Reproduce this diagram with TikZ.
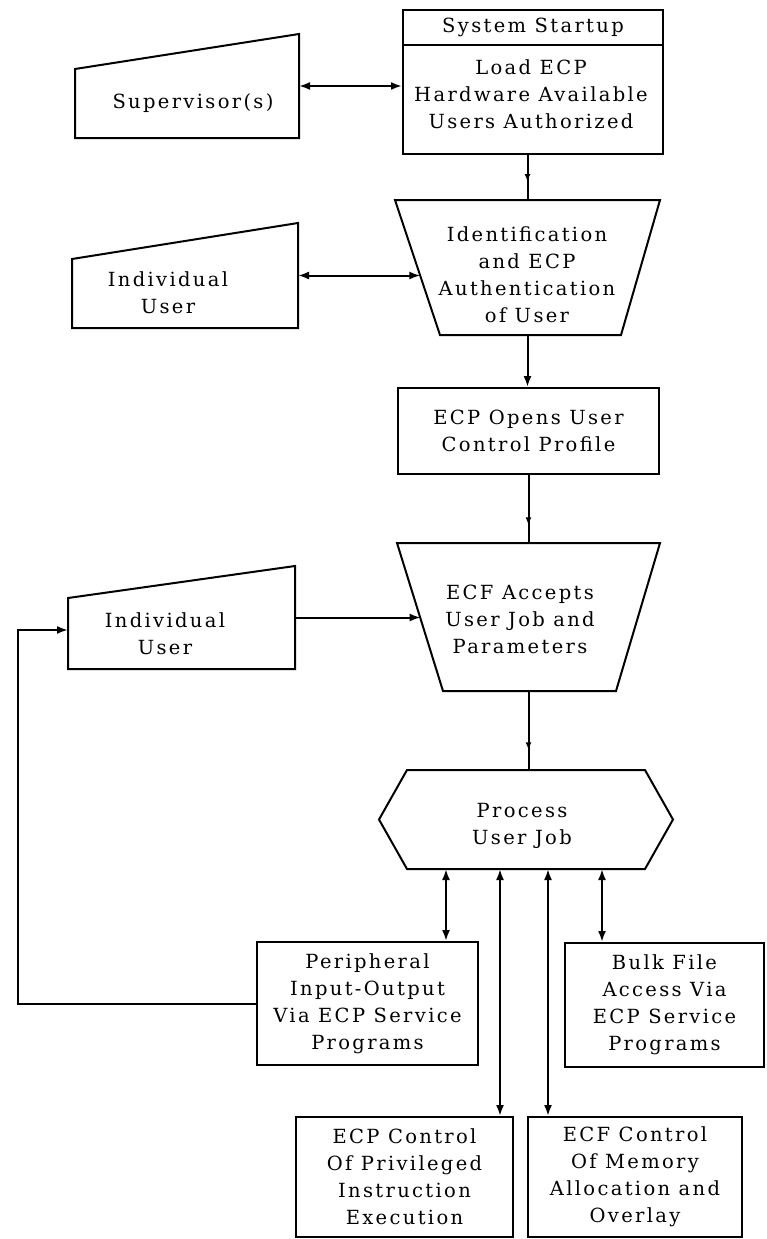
\documentclass[tikz,border=0pt]{standalone}
\usepackage{fontspec}
\setmainfont{DejaVu Serif}[LetterSpace=12.0]
\usetikzlibrary{arrows.meta,decorations.markings,calc}
\begin{document}
\begin{tikzpicture}[x=1pt,y=-1pt,line width=2pt,
  box/.style={draw,rectangle,inner sep=0pt,align=center,font=\fontsize{19.5}{27}\selectfont},
  ghost/.style={draw=none,rectangle,inner sep=0pt,outer sep=0pt},
  txt/.style={align=center,inner sep=0pt,font=\fontsize{19.5}{27}\selectfont},
  tip/.style={-{Latex[length=11pt,width=8pt]}},
  dbl/.style={{Latex[length=11pt,width=8pt]}-{Latex[length=11pt,width=8pt]}},
  midarr/.style={postaction={decorate},decoration={markings,mark=at position #1 with {\arrow{Latex[length=8pt,width=6pt]}}}}]
\useasboundingbox (0,0) rectangle (767,1239);

% System startup
\node[box,minimum width=260pt,minimum height=144pt] (startup) at (533,82) {};
\draw (startup.west |- 0,45) -- (startup.east |- 0,45);
\node[txt] (startupT) at (533,27) {System Startup};
\node[txt] (startupB) at (531,94.5) {Load ECP\\Hardware Available\\Users Authorized};

% Supervisor
\node[ghost,minimum width=224pt,minimum height=104pt] (sup) at (187,86) {};
\draw ([yshift=-35pt]sup.north west) -- (sup.north east) -- (sup.south east) -- (sup.south west) -- cycle;
\node[txt] (supT) at (193,103) {Supervisor(s)};

% Identification
\node[ghost,minimum width=265pt,minimum height=135pt] (ident) at (527.5,267.5) {};
\draw (ident.north west) -- (ident.north east) -- ([xshift=-39pt]ident.south east) -- ([xshift=45pt]ident.south west) -- cycle;
\node[txt] (identT) at (527,275) {Identification\\and ECP\\Authentication\\of User};
\coordinate (identL) at ($(ident.north west)!0.563!([xshift=45pt]ident.south west)$);

% Individual user 1
\node[ghost,minimum width=226pt,minimum height=105pt] (user1) at (185,275.5) {};
\draw ([yshift=-36pt]user1.north west) -- (user1.north east) -- (user1.south east) -- (user1.south west) -- cycle;
\node[txt] (user1T) at (168,292.5) {Individual\\User};

% ECP opens
\node[box,minimum width=261pt,minimum height=86pt] (opens) at (528.5,431) {ECP Opens User\\Control Profile};

% ECF accepts
\node[ghost,minimum width=263pt,minimum height=148pt] (ecf) at (528.5,617) {};
\draw (ecf.north west) -- (ecf.north east) -- ([xshift=-44pt]ecf.south east) -- ([xshift=46pt]ecf.south west) -- cycle;
\node[txt] (ecfT) at (520,619) {ECF Accepts\\User Job and\\Parameters};
\coordinate (ecfL) at ($(ecf.north west)!0.514!([xshift=46pt]ecf.south west)$);

% Individual user 2
\node[ghost,minimum width=227pt,minimum height=103pt] (user2) at (181.5,617.5) {};
\draw ([yshift=-32pt]user2.north west) -- (user2.north east) -- (user2.south east) -- (user2.south west) -- cycle;
\node[txt] (user2T) at (165,634) {Individual\\User};

% Process
\node[ghost,minimum width=294pt,minimum height=99pt] (proc) at (526,819.5) {};
\draw ([xshift=28pt]proc.north west) -- ([xshift=-28pt]proc.north east) -- (proc.east) -- ([xshift=-28pt]proc.south east) -- ([xshift=28pt]proc.south west) -- (proc.west) -- cycle;
\node[txt] (procT) at (522,826) {Process\\User Job};

% Bottom boxes
\node[box,minimum width=221pt,minimum height=123pt] (periph) at (367.5,1003.5) {Peripheral\\Input-Output\\Via ECP Service\\Programs};
\node[box,minimum width=199pt,minimum height=124pt] (bulk) at (664.5,1005) {Bulk File\\Access Via\\ECP Service\\Programs};
\node[box,minimum width=217pt,minimum height=120pt] (priv) at (404.5,1177) {ECP Control\\Of Privileged\\Instruction\\Execution};
\node[box,minimum width=214pt,minimum height=120pt] (mem) at (635,1177) {ECF Control\\Of Memory\\Allocation and\\Overlay};

% Connectors
\draw[dbl] (sup.east) -- (sup.east -| startup.west);
\draw[midarr=0.6] (startup.south -| ident.north) -- (ident.north);
\draw[dbl] (user1.east) -- (user1.east -| identL);
\draw[tip] (ident.south) -- (ident.south |- opens.north);
\draw[midarr=0.74] (opens.south -| ecf.north) -- (ecf.north);
\draw[tip] (user2.east) -- (user2.east -| ecfL);
\draw[midarr=0.75] (ecf.south) -- (ecf.south |- proc.north);
\coordinate (loopc) at (18,630);
\draw[tip] (periph.west) -| (loopc) -- (user2.west |- loopc);
\draw[dbl] ([xshift=-80pt]proc.south) -- ([xshift=-80pt]proc.south |- periph.north);
\draw[dbl] ([xshift=-26pt]proc.south) -- ([xshift=-26pt]proc.south |- priv.north);
\draw[dbl] ([xshift=22pt]proc.south) -- ([xshift=22pt]proc.south |- mem.north);
\draw[dbl] ([xshift=76pt]proc.south) -- ([xshift=76pt]proc.south |- bulk.north);
\end{tikzpicture}
\end{document}
